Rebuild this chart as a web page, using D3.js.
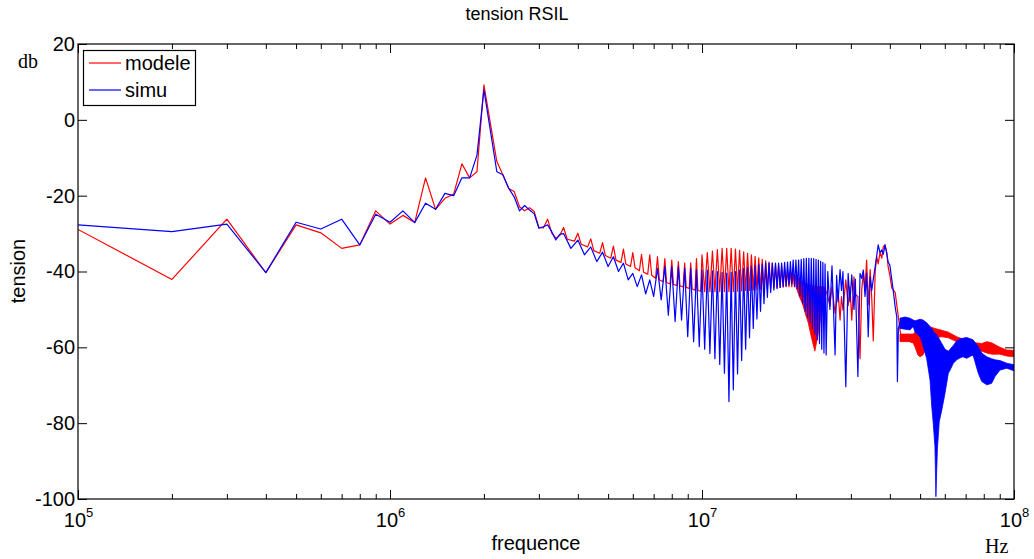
<!DOCTYPE html>
<html><head><meta charset="utf-8">
<script src="https://cdn.jsdelivr.net/npm/d3@7"></script>
<style>
body{margin:0;background:#fff;}
svg{display:block;}
.sans{font-family:"Liberation Sans",Arial,Helvetica,sans-serif;}
.serif{font-family:"Liberation Serif","Times New Roman",serif;}
</style></head><body>
<svg id="c" width="1034" height="559"></svg>
<script>
// ---------------- data ----------------
const chartTitle = "tension RSIL";
const seriesNames = ["modele", "simu"];
const seriesColors = ["#ff0000", "#0000ff"];
const xTickExponents = [5, 6, 7, 8];           // 10^5 .. 10^8 Hz
const yTicks = [-100, -80, -60, -40, -20, 0, 20];

// frequencies in MHz, values in dB
const modeleFreq = [
 0.1,0.2,0.3,0.4,0.5,0.6,0.7,0.8,0.9,1.0,1.1,1.2,1.3,1.4,1.5,1.6,1.7,1.8,1.9,2.0,
 2.1,2.2,2.3,2.4,2.5,2.6,2.7,2.8,2.9,3.0,3.1,3.2,3.3,3.4,3.5,
 3.6,3.7,3.9,4.0,4.1,4.3,4.4,4.5,4.7,4.8,4.9,5.1,5.2,5.3,5.5,5.6,5.7,5.9,
 6.0,6.1,6.3,6.4,6.5,6.7,6.8,6.9,7.1,7.2,7.3,7.5,7.6,7.7,7.9,8.0,8.1,8.3,
 8.4,8.5,8.7,8.8,8.9,9.1,9.2,9.3,9.5,9.6,9.7,9.9,
 10.0,10.2,10.4,10.6,10.8,11.0,11.2,11.4,11.6,11.8,12.0,12.2,12.4,12.6,12.8,13.0,
 13.2,13.4,13.6,13.8,14.0,14.2,14.4,14.6,14.8,15.0,15.2,15.4,15.6,15.8,16.0,16.2,
 16.4,16.6,16.8,17.0,17.2,17.4,17.6,17.8,18.0,18.2,18.4,18.6,18.8,19.0,19.2,19.4,
 19.6,19.8,20.0,
 21.0,23.0,24.5,
 25.1,25.7,26.1,26.7,27.3,27.7,28.0,28.3,28.9,29.4,29.8,30.2,30.7,30.9,31.6,32.1,
 32.5,32.9,33.3,33.7,34.1,34.6,35.0,35.4,35.9,36.3,36.7,37.2,37.7,38.1,38.6,39.1,
 39.5,40.0,40.6,41.6,42.1,42.6,43.1,43.6,
 50.0,58.7,65.5,75.0,100.0
];
const modeleDb = [
 -28.9,-42.1,-26.2,-40.3,-27.7,-29.8,-33.9,-33.0,-24.0,-27.5,-25.2,-27.1,-15.3,-23.6,-20.7,-19.6,-11.6,-15.3,-13.7,9.2,
 -1.2,-11.0,-14.5,-18.1,-18.9,-22.9,-24.0,-23.2,-24.2,-28.4,-28.5,-26.2,-29.9,-31.2,-30.5,
 -28.4,-31.5,-32.0,-29.9,-32.8,-33.5,-31.4,-34.5,-35.2,-32.4,-35.8,-36.5,-33.3,-37.0,-37.6,-34.1,-38.0,-38.7,
 -35.0,-39.0,-39.8,-35.5,-40.2,-40.7,-35.6,-41.0,-41.8,-36.1,-42.2,-42.7,-36.6,-42.9,-43.3,-37.0,-43.4,-43.7,
 -37.4,-43.8,-44.1,-37.8,-44.2,-44.5,-37.7,-44.6,-44.9,-36.6,-45.0,-45.2,
 -35.6,-45.3,-35.0,-45.3,-34.6,-45.3,-34.2,-45.3,-33.9,-45.3,-33.9,-45.3,-33.9,-45.3,-34.1,-45.2,
 -34.4,-45.1,-34.8,-45.0,-35.2,-45.0,-35.6,-44.9,-36.0,-44.8,-36.4,-44.7,-36.8,-44.6,-37.2,-44.5,
 -37.5,-44.4,-37.8,-44.3,-38.0,-44.3,-38.3,-44.2,-38.6,-44.1,-39.0,-44.0,-39.5,-44.0,-40.0,-44.0,
 -40.5,-43.8,-41.0,
 -43.0,-44.0,-44.3,
 -45.5,-49.0,-44.0,-51.0,-45.0,-52.8,-46.6,-50.2,-42.2,-49.0,-44.0,-52.8,-41.4,-46.0,-46.6,-63.0,
 -44.9,-40.0,-45.0,-37.0,-48.8,-39.5,-47.0,-58.3,-40.0,-36.1,-38.0,-35.0,-36.5,-33.5,-33.0,-35.0,
 -38.7,-41.0,-44.4,-45.5,-48.8,-52.0,-55.4,-57.6,
 -59.5,-56.3,-57.8,-59.7,-61.6
];
// dense (unresolved) oscillation envelopes of modele
const modeleBandAFreq = [20.0,20.5,21.0,21.5,21.9,22.4,23.0,23.6,24.1,24.5,24.9];
const modeleBandALo   = [-44.0,-46.6,-48.5,-51.5,-53.5,-57.2,-61.0,-56.3,-51.0,-48.0,-45.0];
const modeleBandAHi   = [-41.0,-42.5,-43.0,-43.5,-43.5,-44.0,-44.0,-44.0,-44.0,-44.0,-44.5];
const modeleBandBFreq = [43.1,44.7,46.4,47.5,48.2,49.2,50.0,51.1,52.5,53.8,55.8,58.7,61.6,65.5,68.6,71.2,75.0,78.8,81.8,84.8,90.2,94.8,100.0];
const modeleBandBLo   = [-58.5,-58.5,-58.5,-58.8,-60.0,-62.0,-62.5,-62.0,-60.0,-58.3,-57.5,-57.2,-57.5,-58.5,-59.5,-60.2,-60.7,-61.0,-61.5,-61.8,-61.8,-62.3,-62.5];
const modeleBandBHi   = [-56.5,-56.5,-56.5,-56.5,-56.0,-56.0,-56.0,-55.5,-55.0,-54.6,-55.0,-55.5,-56.0,-57.2,-57.8,-58.2,-58.8,-59.0,-58.5,-58.8,-60.0,-60.7,-60.8];

const simuFreq = [
 0.1,0.2,0.3,0.4,0.5,0.6,0.7,0.8,0.9,1.0,1.1,1.2,1.3,1.4,1.5,1.6,1.7,1.8,1.9,2.0,
 2.1,2.2,2.3,2.4,2.5,2.6,2.7,2.8,2.9,3.0,3.1,3.2,3.3,3.4,3.5,
 3.6,3.8,4.0,4.2,4.4,4.6,4.8,5.0,5.2,5.4,5.6,5.8,6.0,6.2,6.4,6.6,6.8,7.0,7.2,7.4,
 7.6,7.8,8.0,8.2,8.4,8.6,8.8,9.0,9.2,9.4,9.6,9.8,
 10.0,10.2,10.4,10.6,10.8,11.0,11.2,11.4,11.6,11.8,12.0,12.2,12.4,12.6,12.8,13.0,
 13.2,13.4,13.6,13.8,14.0,14.2,14.4,14.6,14.8,15.0,15.2,15.4,15.6,15.8,16.0,16.2,
 16.4,16.6,16.8,17.0,17.2,17.4,17.6,17.8,18.0,18.2,18.4,18.6,18.8,19.0,19.2,19.4,
 19.6,19.8,20.0,20.2,20.4,20.6,20.8,21.0,21.2,21.4,21.6,21.8,22.0,22.2,22.4,22.6,
 22.8,23.0,23.2,23.4,23.6,23.8,24.0,24.2,24.4,24.6,24.8,25.0,
 25.3,25.7,26.1,26.7,27.0,27.3,27.7,28.0,28.3,28.9,29.4,29.8,30.2,30.7,31.0,31.6,
 32.1,32.5,32.9,33.3,33.7,34.1,34.6,35.0,35.4,35.9,36.7,37.2,37.7,38.1,38.6,39.1,
 39.5,40.0,41.0,41.6,42.1,42.3,42.6,43.1,
 50.0,60.0,70.0,80.0,100.0
];
const simuDb = [
 -27.7,-29.5,-27.5,-40.3,-27.0,-28.8,-26.2,-33.0,-24.9,-27.0,-24.0,-27.1,-22.0,-23.6,-19.4,-20.0,-15.3,-15.3,-9.3,7.9,
 -3.1,-13.7,-14.5,-18.0,-20.3,-24.0,-22.6,-23.8,-24.8,-28.6,-28.2,-27.7,-29.5,-31.7,-30.2,
 -30.0,-33.9,-31.7,-35.6,-33.5,-37.4,-34.9,-38.7,-36.1,-40.0,-37.8,-42.2,-40.5,-44.0,-40.9,-45.9,-42.2,-46.6,-39.2,-47.5,
 -38.7,-51.5,-38.7,-53.2,-38.7,-52.8,-39.2,-57.2,-39.2,-58.5,-39.6,-59.8,
 -39.6,-60.5,-39.6,-61.6,-39.8,-63.0,-40.0,-64.5,-40.2,-66.8,-40.4,-74.3,-40.2,-71.2,-40.0,-67.0,
 -39.6,-63.5,-39.2,-60.5,-39.0,-57.5,-38.7,-55.0,-38.5,-52.5,-38.2,-50.5,-38.0,-48.5,-37.8,-46.8,
 -37.8,-45.5,-37.8,-44.9,-37.8,-44.5,-37.8,-44.2,-37.8,-44.0,-37.6,-43.8,-37.5,-43.5,-37.4,-43.2,
 -37.0,-44.0,-37.0,-44.5,-37.0,-46.5,-36.8,-48.5,-36.6,-50.5,-36.5,-52.0,-36.5,-53.5,-36.5,-55.0,
 -36.6,-56.5,-36.8,-58.0,-37.0,-59.0,-37.3,-60.5,-37.6,-61.5,-38.0,-62.0,
 -40.0,-50.0,-38.5,-62.0,-41.0,-48.0,-39.5,-45.0,-40.0,-70.4,-40.5,-48.0,-40.9,-50.0,-42.0,-67.7,
 -40.5,-41.8,-39.6,-46.6,-40.5,-57.2,-41.5,-45.0,-42.0,-38.7,-33.0,-35.0,-34.3,-35.5,-33.0,-35.2,
 -37.5,-38.3,-44.9,-49.3,-52.0,-69.0,-55.0,-53.5,
 -55.0,-62.0,-60.0,-65.0,-65.4
];
const simuBandFreq = [43.1,44.7,46.4,47.5,48.2,50.0,51.1,52.5,53.8,54.5,55.1,55.8,56.2,56.8,57.6,58.7,60.1,61.6,62.4,63.9,65.5,67.1,68.6,70.5,73.9,76.8,78.8,81.8,84.8,86.9,90.2,94.8,100.0];
const simuBandLo   = [-55.0,-55.2,-55.4,-54.5,-56.0,-57.2,-59.5,-63.0,-68.6,-75.6,-80.0,-86.2,-99.4,-87.0,-79.6,-76.5,-72.1,-66.8,-66.0,-64.2,-63.3,-62.8,-62.5,-62.9,-62.0,-66.8,-69.0,-69.9,-69.5,-67.7,-66.0,-65.5,-66.2];
const simuBandHi   = [-52.3,-52.0,-52.3,-52.8,-53.0,-52.6,-52.8,-53.5,-54.5,-55.0,-55.8,-56.3,-56.5,-57.0,-57.8,-59.0,-60.5,-61.0,-60.5,-59.5,-58.3,-57.8,-57.6,-57.4,-58.0,-59.8,-61.5,-62.5,-63.0,-63.3,-63.5,-64.2,-64.6];

// ---------------- layout ----------------
const m = {l: 78, r: 1014, t: 44, b: 499};
const svg = d3.select("#c");
const x = d3.scaleLog().domain([0.1, 100]).range([m.l, m.r]);
const y = d3.scaleLinear().domain([-100, 20]).range([m.b, m.t]);

svg.append("rect").attr("width",1034).attr("height",559).attr("fill","#fff");
svg.append("defs").append("clipPath").attr("id","clip")
  .append("rect").attr("x",m.l).attr("y",m.t).attr("width",m.r-m.l).attr("height",m.b-m.t);
const plot = svg.append("g").attr("clip-path","url(#clip)");

const line = d3.line().x(d=>x(d[0])).y(d=>y(d[1]));
const area = d3.area().x(d=>x(d[0])).y0(d=>y(d[1])).y1(d=>y(d[2]));

function drawSeries(freq, db, bands, color){
  plot.append("path").datum(freq.map((f,i)=>[f,db[i]]))
    .attr("d", line).attr("fill","none").attr("stroke",color)
    .attr("stroke-width",1.2).attr("stroke-linejoin","round");
  bands.forEach(b=>{
    plot.append("path").datum(b[0].map((f,i)=>[f,b[1][i],b[2][i]]))
      .attr("d", area).attr("fill",color).attr("stroke",color).attr("stroke-width",0.8);
  });
}
drawSeries(modeleFreq, modeleDb, [[modeleBandAFreq,modeleBandALo,modeleBandAHi],[modeleBandBFreq,modeleBandBLo,modeleBandBHi]], seriesColors[0]);
drawSeries(simuFreq, simuDb, [[simuBandFreq,simuBandLo,simuBandHi]], seriesColors[1]);

// ---------------- axes ----------------
const majors = xTickExponents.map(e => Math.pow(10, e) / 1e6);
const minors = x.ticks().filter(v => !majors.some(mj => Math.abs(mj - v) < 1e-9));
function styleAxis(sel){
  sel.select(".domain").remove();
  sel.selectAll("line").attr("stroke","#000").attr("stroke-width",1);
}
svg.append("g").attr("transform",`translate(0,${m.b})`)
  .call(d3.axisBottom(x).tickValues(minors).tickSize(-5).tickFormat("")).call(styleAxis);
svg.append("g").attr("transform",`translate(0,${m.t})`)
  .call(d3.axisTop(x).tickValues(minors).tickSize(-5).tickFormat("")).call(styleAxis);
svg.append("g").attr("transform",`translate(0,${m.t})`)
  .call(d3.axisTop(x).tickValues(majors).tickSize(-9).tickFormat("")).call(styleAxis);
const xb = svg.append("g").attr("transform",`translate(0,${m.b})`)
  .call(d3.axisBottom(x).tickValues(majors).tickSize(-9).tickPadding(0).tickFormat(()=>"10"))
  .call(styleAxis);
xb.selectAll("text").attr("class","sans").attr("font-size",20).attr("fill","#000")
  .attr("dy",null).attr("y",28).attr("text-anchor","middle")
  .each(function(d,i){
    d3.select(this).append("tspan").attr("font-size",13).attr("dy",-10).text(xTickExponents[i]);
  });

const yl = svg.append("g").attr("transform",`translate(${m.l},0)`)
  .call(d3.axisLeft(y).tickValues(yTicks).tickSize(-9).tickPadding(3).tickFormat(d => String(d)))
  .call(styleAxis);
yl.selectAll("text").attr("class","sans").attr("font-size",20).attr("fill","#000");
svg.append("g").attr("transform",`translate(${m.r},0)`)
  .call(d3.axisRight(y).tickValues(yTicks).tickSize(-9).tickFormat("")).call(styleAxis);

svg.append("rect").attr("x",m.l).attr("y",m.t).attr("width",m.r-m.l).attr("height",m.b-m.t)
  .attr("fill","none").attr("stroke","#000").attr("stroke-width",1.2);

// ---------------- texts ----------------
svg.append("text").attr("class","sans").attr("x",517).attr("y",20).attr("text-anchor","middle")
  .attr("font-size",18).text(chartTitle);
svg.append("text").attr("class","sans").attr("x",536).attr("y",550).attr("text-anchor","middle")
  .attr("font-size",20).text("frequence");
svg.append("text").attr("class","sans").attr("transform","translate(25,271) rotate(-90)")
  .attr("text-anchor","middle").attr("font-size",20).text("tension");
svg.append("text").attr("class","serif").attr("x",18).attr("y",68).attr("font-size",20).text("db");
svg.append("text").attr("class","serif").attr("x",985).attr("y",553).attr("font-size",20).text("Hz");

// ---------------- legend ----------------
const lg = svg.append("g");
lg.append("rect").attr("x",83.5).attr("y",50.5).attr("width",112).attr("height",55)
  .attr("fill","#fff").attr("stroke","#000").attr("stroke-width",1.2);
seriesNames.forEach((n,i)=>{
  const yy = 63 + i*27;
  lg.append("line").attr("x1",89).attr("x2",121).attr("y1",yy).attr("y2",yy)
    .attr("stroke",seriesColors[i]).attr("stroke-width",1.2);
  lg.append("text").attr("class","sans").attr("x",125).attr("y",yy+7).attr("font-size",20).text(n);
});
</script>
</body></html>
